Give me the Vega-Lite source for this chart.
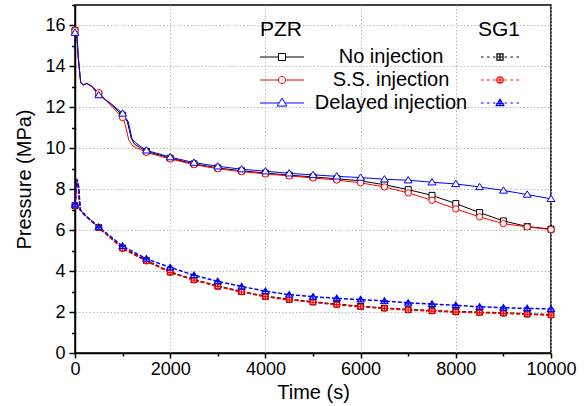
{
  "$schema": "https://vega.github.io/schema/vega-lite/v6.json",
  "width": 476,
  "height": 348,
  "autosize": "none",
  "padding": {"left": 75, "top": 5, "right": 35, "bottom": 53},
  "config": {
    "font": "Liberation Sans",
    "view": {"stroke": "black", "strokeWidth": 1.5},
    "axis": {
      "domainColor": "black", "domainWidth": 1.5, "tickColor": "black", "tickWidth": 1.5,
      "labelColor": "black", "titleColor": "black", "labelFontSize": 18, "titleFontSize": 20,
      "titleFontWeight": "normal", "grid": true, "gridColor": "#b8b8b8", "gridDash": [1.5, 2]
    }
  },
  "data": {"values": [
    {"s":"PZR","c":"No injection","t":0,"p":15.75},{"s":"PZR","c":"No injection","t":40,"p":15.5},{"s":"PZR","c":"No injection","t":70,"p":14.4},{"s":"PZR","c":"No injection","t":120,"p":13.2},{"s":"PZR","c":"No injection","t":180,"p":13.1},{"s":"PZR","c":"No injection","t":250,"p":13.17},{"s":"PZR","c":"No injection","t":350,"p":13.02},{"s":"PZR","c":"No injection","t":500,"p":12.65},{"s":"PZR","c":"No injection","t":750,"p":12.15},{"s":"PZR","c":"No injection","t":1000,"p":11.62},{"s":"PZR","c":"No injection","t":1100,"p":11.3},{"s":"PZR","c":"No injection","t":1180,"p":10.5},{"s":"PZR","c":"No injection","t":1250,"p":10.2},{"s":"PZR","c":"No injection","t":1500,"p":9.85},{"s":"PZR","c":"No injection","t":2000,"p":9.52},{"s":"PZR","c":"No injection","t":2500,"p":9.24},{"s":"PZR","c":"No injection","t":3000,"p":9.04},{"s":"PZR","c":"No injection","t":3500,"p":8.9},{"s":"PZR","c":"No injection","t":4000,"p":8.79},{"s":"PZR","c":"No injection","t":4500,"p":8.69},{"s":"PZR","c":"No injection","t":5000,"p":8.6},{"s":"PZR","c":"No injection","t":5500,"p":8.51},{"s":"PZR","c":"No injection","t":6000,"p":8.41},{"s":"PZR","c":"No injection","t":6500,"p":8.22},{"s":"PZR","c":"No injection","t":7000,"p":7.98},{"s":"PZR","c":"No injection","t":7500,"p":7.7},{"s":"PZR","c":"No injection","t":8000,"p":7.3},{"s":"PZR","c":"No injection","t":8500,"p":6.86},{"s":"PZR","c":"No injection","t":9000,"p":6.45},{"s":"PZR","c":"No injection","t":9500,"p":6.18},{"s":"PZR","c":"No injection","t":10000,"p":6.05},
    {"s":"PZR","c":"S.S. injection","t":0,"p":15.75},{"s":"PZR","c":"S.S. injection","t":40,"p":15.5},{"s":"PZR","c":"S.S. injection","t":70,"p":14.4},{"s":"PZR","c":"S.S. injection","t":120,"p":13.2},{"s":"PZR","c":"S.S. injection","t":180,"p":13.1},{"s":"PZR","c":"S.S. injection","t":250,"p":13.17},{"s":"PZR","c":"S.S. injection","t":350,"p":13.05},{"s":"PZR","c":"S.S. injection","t":500,"p":12.72},{"s":"PZR","c":"S.S. injection","t":750,"p":12.1},{"s":"PZR","c":"S.S. injection","t":1000,"p":11.5},{"s":"PZR","c":"S.S. injection","t":1050,"p":11.2},{"s":"PZR","c":"S.S. injection","t":1130,"p":10.4},{"s":"PZR","c":"S.S. injection","t":1220,"p":10.1},{"s":"PZR","c":"S.S. injection","t":1500,"p":9.8},{"s":"PZR","c":"S.S. injection","t":2000,"p":9.48},{"s":"PZR","c":"S.S. injection","t":2500,"p":9.2},{"s":"PZR","c":"S.S. injection","t":3000,"p":9.0},{"s":"PZR","c":"S.S. injection","t":3500,"p":8.86},{"s":"PZR","c":"S.S. injection","t":4000,"p":8.75},{"s":"PZR","c":"S.S. injection","t":4500,"p":8.65},{"s":"PZR","c":"S.S. injection","t":5000,"p":8.55},{"s":"PZR","c":"S.S. injection","t":5500,"p":8.45},{"s":"PZR","c":"S.S. injection","t":6000,"p":8.31},{"s":"PZR","c":"S.S. injection","t":6500,"p":8.11},{"s":"PZR","c":"S.S. injection","t":7000,"p":7.82},{"s":"PZR","c":"S.S. injection","t":7500,"p":7.46},{"s":"PZR","c":"S.S. injection","t":8000,"p":7.04},{"s":"PZR","c":"S.S. injection","t":8500,"p":6.65},{"s":"PZR","c":"S.S. injection","t":9000,"p":6.32},{"s":"PZR","c":"S.S. injection","t":9500,"p":6.16},{"s":"PZR","c":"S.S. injection","t":10000,"p":6.03},
    {"s":"PZR","c":"Delayed injection","t":0,"p":15.65},{"s":"PZR","c":"Delayed injection","t":40,"p":15.5},{"s":"PZR","c":"Delayed injection","t":70,"p":14.4},{"s":"PZR","c":"Delayed injection","t":120,"p":13.2},{"s":"PZR","c":"Delayed injection","t":180,"p":13.1},{"s":"PZR","c":"Delayed injection","t":250,"p":13.17},{"s":"PZR","c":"Delayed injection","t":350,"p":13.02},{"s":"PZR","c":"Delayed injection","t":500,"p":12.6},{"s":"PZR","c":"Delayed injection","t":750,"p":12.2},{"s":"PZR","c":"Delayed injection","t":1000,"p":11.7},{"s":"PZR","c":"Delayed injection","t":1120,"p":11.3},{"s":"PZR","c":"Delayed injection","t":1200,"p":10.45},{"s":"PZR","c":"Delayed injection","t":1280,"p":10.25},{"s":"PZR","c":"Delayed injection","t":1500,"p":9.9},{"s":"PZR","c":"Delayed injection","t":2000,"p":9.57},{"s":"PZR","c":"Delayed injection","t":2500,"p":9.3},{"s":"PZR","c":"Delayed injection","t":3000,"p":9.12},{"s":"PZR","c":"Delayed injection","t":3500,"p":8.98},{"s":"PZR","c":"Delayed injection","t":4000,"p":8.88},{"s":"PZR","c":"Delayed injection","t":4500,"p":8.78},{"s":"PZR","c":"Delayed injection","t":5000,"p":8.7},{"s":"PZR","c":"Delayed injection","t":5500,"p":8.63},{"s":"PZR","c":"Delayed injection","t":6000,"p":8.57},{"s":"PZR","c":"Delayed injection","t":6500,"p":8.49},{"s":"PZR","c":"Delayed injection","t":7000,"p":8.44},{"s":"PZR","c":"Delayed injection","t":7500,"p":8.34},{"s":"PZR","c":"Delayed injection","t":8000,"p":8.26},{"s":"PZR","c":"Delayed injection","t":8500,"p":8.11},{"s":"PZR","c":"Delayed injection","t":9000,"p":7.94},{"s":"PZR","c":"Delayed injection","t":9500,"p":7.74},{"s":"PZR","c":"Delayed injection","t":10000,"p":7.53},
    {"s":"SG1","c":"No injection","t":0,"p":7.2},{"s":"SG1","c":"No injection","t":40,"p":8.45},{"s":"SG1","c":"No injection","t":70,"p":8.2},{"s":"SG1","c":"No injection","t":110,"p":7.0},{"s":"SG1","c":"No injection","t":200,"p":6.75},{"s":"SG1","c":"No injection","t":500,"p":6.13},{"s":"SG1","c":"No injection","t":1000,"p":5.13},{"s":"SG1","c":"No injection","t":1500,"p":4.52},{"s":"SG1","c":"No injection","t":2000,"p":3.96},{"s":"SG1","c":"No injection","t":2500,"p":3.58},{"s":"SG1","c":"No injection","t":3000,"p":3.27},{"s":"SG1","c":"No injection","t":3500,"p":3.0},{"s":"SG1","c":"No injection","t":4000,"p":2.77},{"s":"SG1","c":"No injection","t":4500,"p":2.62},{"s":"SG1","c":"No injection","t":5000,"p":2.5},{"s":"SG1","c":"No injection","t":5500,"p":2.38},{"s":"SG1","c":"No injection","t":6000,"p":2.28},{"s":"SG1","c":"No injection","t":6500,"p":2.2},{"s":"SG1","c":"No injection","t":7000,"p":2.12},{"s":"SG1","c":"No injection","t":7500,"p":2.07},{"s":"SG1","c":"No injection","t":8000,"p":2.02},{"s":"SG1","c":"No injection","t":8500,"p":1.99},{"s":"SG1","c":"No injection","t":9000,"p":1.96},{"s":"SG1","c":"No injection","t":9500,"p":1.91},{"s":"SG1","c":"No injection","t":10000,"p":1.87},
    {"s":"SG1","c":"S.S. injection","t":0,"p":7.2},{"s":"SG1","c":"S.S. injection","t":40,"p":8.45},{"s":"SG1","c":"S.S. injection","t":70,"p":8.2},{"s":"SG1","c":"S.S. injection","t":110,"p":7.0},{"s":"SG1","c":"S.S. injection","t":200,"p":6.75},{"s":"SG1","c":"S.S. injection","t":500,"p":6.12},{"s":"SG1","c":"S.S. injection","t":1000,"p":5.1},{"s":"SG1","c":"S.S. injection","t":1500,"p":4.49},{"s":"SG1","c":"S.S. injection","t":2000,"p":3.93},{"s":"SG1","c":"S.S. injection","t":2500,"p":3.56},{"s":"SG1","c":"S.S. injection","t":3000,"p":3.25},{"s":"SG1","c":"S.S. injection","t":3500,"p":2.98},{"s":"SG1","c":"S.S. injection","t":4000,"p":2.75},{"s":"SG1","c":"S.S. injection","t":4500,"p":2.6},{"s":"SG1","c":"S.S. injection","t":5000,"p":2.48},{"s":"SG1","c":"S.S. injection","t":5500,"p":2.36},{"s":"SG1","c":"S.S. injection","t":6000,"p":2.26},{"s":"SG1","c":"S.S. injection","t":6500,"p":2.18},{"s":"SG1","c":"S.S. injection","t":7000,"p":2.1},{"s":"SG1","c":"S.S. injection","t":7500,"p":2.05},{"s":"SG1","c":"S.S. injection","t":8000,"p":2.0},{"s":"SG1","c":"S.S. injection","t":8500,"p":1.97},{"s":"SG1","c":"S.S. injection","t":9000,"p":1.94},{"s":"SG1","c":"S.S. injection","t":9500,"p":1.89},{"s":"SG1","c":"S.S. injection","t":10000,"p":1.85},
    {"s":"SG1","c":"Delayed injection","t":0,"p":7.25},{"s":"SG1","c":"Delayed injection","t":40,"p":8.5},{"s":"SG1","c":"Delayed injection","t":70,"p":8.2},{"s":"SG1","c":"Delayed injection","t":110,"p":7.0},{"s":"SG1","c":"Delayed injection","t":200,"p":6.75},{"s":"SG1","c":"Delayed injection","t":500,"p":6.15},{"s":"SG1","c":"Delayed injection","t":1000,"p":5.22},{"s":"SG1","c":"Delayed injection","t":1500,"p":4.6},{"s":"SG1","c":"Delayed injection","t":2000,"p":4.18},{"s":"SG1","c":"Delayed injection","t":2500,"p":3.8},{"s":"SG1","c":"Delayed injection","t":3000,"p":3.5},{"s":"SG1","c":"Delayed injection","t":3500,"p":3.25},{"s":"SG1","c":"Delayed injection","t":4000,"p":3.02},{"s":"SG1","c":"Delayed injection","t":4500,"p":2.85},{"s":"SG1","c":"Delayed injection","t":5000,"p":2.75},{"s":"SG1","c":"Delayed injection","t":5500,"p":2.67},{"s":"SG1","c":"Delayed injection","t":6000,"p":2.61},{"s":"SG1","c":"Delayed injection","t":6500,"p":2.54},{"s":"SG1","c":"Delayed injection","t":7000,"p":2.45},{"s":"SG1","c":"Delayed injection","t":7500,"p":2.39},{"s":"SG1","c":"Delayed injection","t":8000,"p":2.33},{"s":"SG1","c":"Delayed injection","t":8500,"p":2.26},{"s":"SG1","c":"Delayed injection","t":9000,"p":2.21},{"s":"SG1","c":"Delayed injection","t":9500,"p":2.18},{"s":"SG1","c":"Delayed injection","t":10000,"p":2.15}
  ]},
  "encoding": {
    "x": {"field": "t", "type": "quantitative", "scale": {"domain": [0, 10000], "nice": false},
      "axis": {"title": "Time (s)", "titleFontWeight": "normal", "values": [0,1000,2000,3000,4000,5000,6000,7000,8000,9000,10000], "format": "d",
        "labelExpr": "datum.value % 2000 == 0 ? datum.label : ''",
        "tickSize": {"condition": {"test": "datum.value % 2000 == 0", "value": 5}, "value": 3},
        "gridOpacity": {"condition": {"test": "datum.value % 2000 == 0", "value": 1}, "value": 0},
        "labelPadding": 2, "titlePadding": 4, "labelFlush": false}},
    "y": {"field": "p", "type": "quantitative", "scale": {"domain": [0, 17], "nice": false},
      "axis": {"title": "Pressure (MPa)", "titleFontWeight": "normal", "values": [0,1,2,3,4,5,6,7,8,9,10,11,12,13,14,15,16,17],
        "labelExpr": "datum.value % 2 == 0 ? datum.label : ''",
        "tickSize": {"condition": {"test": "datum.value % 2 == 0", "value": 6}, "value": 3.5},
        "gridOpacity": {"condition": {"test": "datum.value % 2 == 0", "value": 1}, "value": 0},
        "labelPadding": 4, "titlePadding": 10}}
  },
  "layer": [
    {
      "transform": [{"filter": "datum.s == 'PZR'"}],
      "encoding": {
        "color": {"field": "c", "type": "nominal",
          "scale": {"domain": ["No injection", "S.S. injection", "Delayed injection"], "range": ["black", "red", "blue"]},
          "legend": {"orient": "none", "legendX": 185, "legendY": 14, "title": "PZR", "titleFontSize": 21,
            "titleFontWeight": "normal", "titleColor": "black", "labelFontSize": 20, "labelColor": "black",
            "labelAlign": "center", "labelOffset": 86, "symbolSize": 100, "padding": 0, "rowPadding": 2, "titlePadding": 6,
            "encode": {
              "labels": {"update": {"y": {"value": 11}}},
              "symbols": {"update": {
              "shape": {"signal": "datum.value == 'No injection' ? 'M-1,0H-0.16M0.16,0H1M-0.16,-0.16H0.16V0.16H-0.16Z' : datum.value == 'S.S. injection' ? 'M-1,0H-0.16M0.16,0H1M0.16,0A0.16,0.16 0 1,1 -0.16,0A0.16,0.16 0 1,1 0.16,0Z' : 'M-1,0H-0.14M0.14,0H1M0,-0.22L0.22,0.14H-0.22Z'"},
              "size": {"value": 1936}, "x": {"value": 22}, "y": {"value": 11}, "fill": {"value": "white"},
              "stroke": {"signal": "datum.value == 'No injection' ? 'black' : datum.value == 'S.S. injection' ? 'red' : 'blue'"},
              "strokeWidth": {"value": 1}, "strokeDash": {"value": []}, "opacity": {"value": 1}}}}}}
      },
      "layer": [
        {"mark": {"type": "line", "strokeWidth": 1}},
        {"transform": [{"filter": "datum.t % 500 == 0 && datum.c == 'No injection'"}],
         "mark": {"type": "point", "shape": "square", "filled": false, "fill": "white", "size": 36, "strokeWidth": 1, "opacity": 1}},
        {"transform": [{"filter": "datum.t % 500 == 0 && datum.c == 'S.S. injection'"}],
         "mark": {"type": "point", "shape": "circle", "filled": false, "fill": "white", "size": 40, "strokeWidth": 1, "opacity": 1}},
        {"transform": [{"filter": "datum.t % 500 == 0 && datum.c == 'Delayed injection'"}],
         "mark": {"type": "point", "shape": "M0,-1.15L1.25,0.85H-1.25Z", "filled": false, "fill": "white", "size": 40, "strokeWidth": 1, "opacity": 1}}
      ]
    },
    {
      "transform": [{"filter": "datum.s == 'SG1'"}],
      "encoding": {
        "color": {"field": "c", "type": "nominal",
          "scale": {"domain": ["No injection", "S.S. injection", "Delayed injection"], "range": ["black", "red", "blue"]},
          "legend": {"orient": "none", "legendX": 403, "legendY": 14, "title": "SG1", "titleFontSize": 21,
            "titleFontWeight": "normal", "titleColor": "black", "labelExpr": "''", "labelFontSize": 20,
            "symbolSize": 100, "padding": 0, "rowPadding": 2, "titlePadding": 6,
            "encode": {
              "labels": {"update": {"y": {"value": 11}}},
              "symbols": {"update": {
              "shape": {"signal": "datum.value == 'No injection' ? 'M-1,0H-0.87M-0.68,0H-0.55M-0.37,0H-0.24M0.24,0H0.37M0.55,0H0.68M0.87,0H1M-0.16,-0.16H0.16V0.16H-0.16ZM-0.16,0H0.16M0,-0.16V0.16' : datum.value == 'S.S. injection' ? 'M-1,0H-0.87M-0.68,0H-0.55M-0.37,0H-0.24M0.24,0H0.37M0.55,0H0.68M0.87,0H1M0.17,0A0.17,0.17 0 1,1 -0.17,0A0.17,0.17 0 1,1 0.17,0ZM-0.17,0H0.17M0,-0.17V0.17' : 'M-1,0H-0.87M-0.68,0H-0.55M-0.37,0H-0.24M0.24,0H0.37M0.55,0H0.68M0.87,0H1M0,-0.2L0.2,0.14H-0.2ZM-0.2,0.03H0.2M0,-0.2V0.14'"},
              "size": {"value": 1444}, "x": {"value": 22}, "y": {"value": 11}, "fill": {"value": "white"},
              "stroke": {"signal": "datum.value == 'No injection' ? 'black' : datum.value == 'S.S. injection' ? 'red' : 'blue'"},
              "strokeWidth": {"value": 1.2}, "strokeDash": {"value": []}, "opacity": {"value": 1}}}}}}
      },
      "layer": [
        {"mark": {"type": "line", "strokeWidth": 1.5, "strokeDash": [4, 2]}},
        {"transform": [{"filter": "datum.t % 500 == 0 && datum.c == 'No injection'"}],
         "mark": {"type": "point", "shape": "M-1,-1H1V1H-1ZM-1,0H1M0,-1V1", "filled": false, "fill": "white", "size": 30, "strokeWidth": 1.2, "opacity": 1}},
        {"transform": [{"filter": "datum.t % 500 == 0 && datum.c == 'S.S. injection'"}],
         "mark": {"type": "point", "shape": "M1,0A1,1 0 1,1 -1,0A1,1 0 1,1 1,0ZM-1,0H1M0,-1V1", "filled": false, "fill": "white", "size": 30, "strokeWidth": 1.2, "opacity": 1}},
        {"transform": [{"filter": "datum.t % 500 == 0 && datum.c == 'Delayed injection'"}],
         "mark": {"type": "point", "shape": "M0,-1.15L1.25,0.85H-1.25ZM-1.25,0.1H1.25M0,-1.15V0.85", "filled": false, "fill": "white", "size": 30, "strokeWidth": 1.2, "opacity": 1}}
      ]
    }
  ],
  "resolve": {"scale": {"color": "independent"}}
}
